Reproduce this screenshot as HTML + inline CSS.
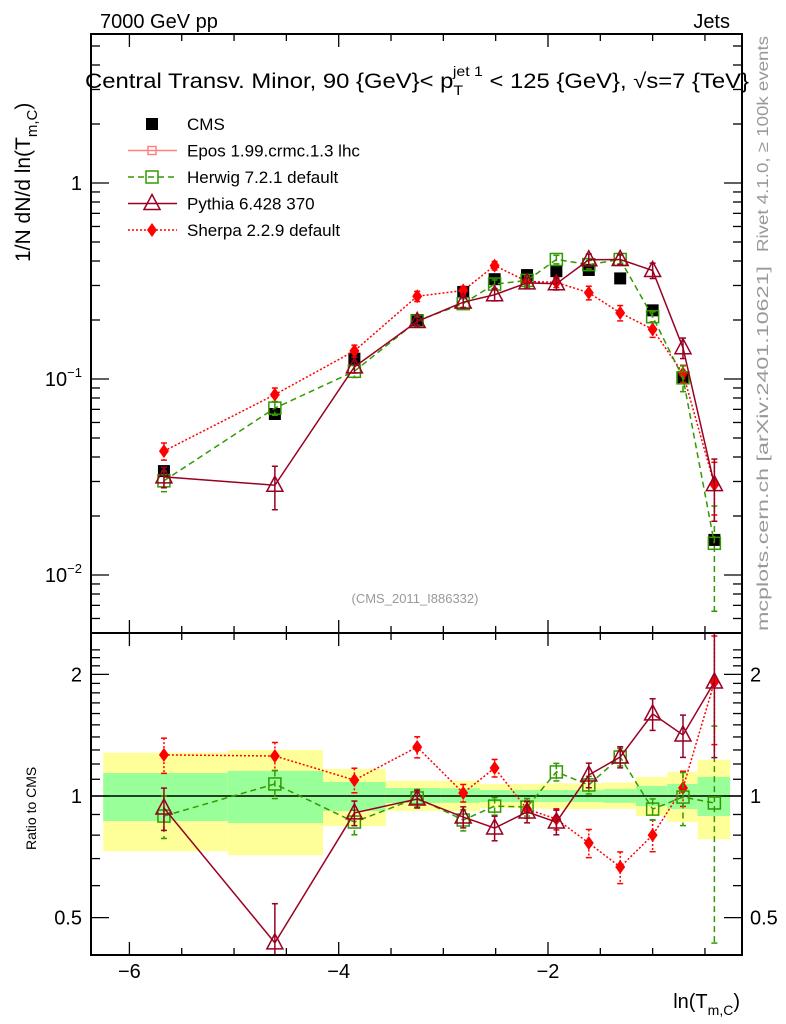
<!DOCTYPE html>
<html><head><meta charset="utf-8"><style>
body{margin:0;background:#fff;}
svg{display:block;font-family:"Liberation Sans",Arial,sans-serif;}
</style></head><body>
<svg id="c" width="786" height="1024" viewBox="0 0 786 1024" xmlns="http://www.w3.org/2000/svg">
<text x="100" y="28" font-size="20">7000 GeV pp</text>
<text x="730" y="28" font-size="20" text-anchor="end">Jets</text>
<text x="417" y="88" font-size="21" text-anchor="middle" textLength="664" lengthAdjust="spacingAndGlyphs">Central Transv. Minor, 90 {GeV}&lt; p<tspan font-size="14" dy="7">T</tspan><tspan font-size="14" dx="-9" dy="-19">jet 1</tspan><tspan dy="12"> &lt; 125 {GeV}, √s=7 {TeV}</tspan></text>
<text transform="translate(30,262) rotate(-90)" font-size="21">1/N    dN/d ln(T<tspan font-size="15" dy="7">m,C</tspan><tspan dy="-7">)</tspan></text>
<text transform="translate(36,850) rotate(-90)" font-size="14">Ratio to CMS</text>
<text transform="translate(768,252) rotate(-90)" font-size="16" fill="#999" textLength="216" lengthAdjust="spacingAndGlyphs">Rivet 4.1.0, ≥ 100k events</text>
<text transform="translate(768,631) rotate(-90)" font-size="16" fill="#999" textLength="365" lengthAdjust="spacingAndGlyphs">mcplots.cern.ch [arXiv:2401.10621]</text>
<text x="415" y="603" font-size="13" fill="#999" text-anchor="middle">(CMS_2011_I886332)</text>
<text x="740" y="1008" font-size="20" text-anchor="end">ln(T<tspan font-size="14" dy="7">m,C</tspan><tspan dy="-7">)</tspan></text>
<g id="bands"></g><g id="marks"></g><g id="axes"></g><g id="legend"></g>
</svg>
<script>
const xs=[-5.67,-4.61,-3.85,-3.25,-2.81,-2.51,-2.20,-1.92,-1.61,-1.31,-1.00,-0.71,-0.41];
const binEdges=[-6.25,-5.06,-4.15,-3.55,-3.03,-2.65,-2.36,-2.07,-1.76,-1.47,-1.16,-0.86,-0.57,-0.26];
const cmsVals=[0.0339,0.0663,0.127,0.200,0.278,0.323,0.339,0.355,0.360,0.326,0.224,0.102,0.0151];
const herwigRatio=[0.892,1.071,0.862,0.989,0.872,0.944,0.939,1.147,1.065,1.249,0.928,0.994,0.961];
const pythiaRatio=[0.934,0.433,0.908,0.983,0.887,0.833,0.913,0.862,1.127,1.249,1.597,1.416,1.915];
const sherpaRatio=[1.264,1.256,1.095,1.322,1.017,1.173,0.928,0.877,0.765,0.667,0.80,1.047,1.915];
const herwigErr=[0.12,0.08,0.07,0.05,0.06,0.05,0.05,0.05,0.05,0.05,0.06,0.15,0.55];
const pythiaErr=[0.12,0.25,0.07,0.05,0.06,0.07,0.06,0.07,0.07,0.06,0.09,0.12,0.35];
const sherpaErr=[0.10,0.08,0.07,0.06,0.05,0.05,0.05,0.06,0.08,0.09,0.09,0.10,0.30];
const bandTotUp=[1.28,1.30,1.167,1.09,1.09,1.071,1.071,1.075,1.075,1.08,1.115,1.147,1.229];
const bandTotLo=[0.73,0.713,0.842,0.918,0.918,0.934,0.934,0.928,0.928,0.93,0.892,0.862,0.782];
const bandStatUp=[1.14,1.154,1.083,1.047,1.045,1.035,1.035,1.035,1.035,1.04,1.059,1.071,1.115];
const bandStatLo=[0.867,0.857,0.918,0.961,0.962,0.966,0.966,0.966,0.966,0.962,0.944,0.928,0.892];
const xTicks=[-6,-4,-2];
const mainTicks=[1,0.1,0.01];
const ratioTicks=[2,1,0.5];

const NS="http://www.w3.org/2000/svg";
const L=91,R=742,MT=34,MB=633,RT=633,RB=955;
const XMIN=-6.367,XMAX=-0.146;
const sx=v=>L+(v-XMIN)/(XMAX-XMIN)*(R-L);
const sy=v=>183-Math.log10(v)*196;
const ry=v=>796-Math.log10(v)*404;
function mk(p,tag,a){const e=document.createElementNS(NS,tag);for(const k in a)e.setAttribute(k,a[k]);p.appendChild(e);return e;}
const bands=document.getElementById('bands'),marks=document.getElementById('marks'),axes=document.getElementById('axes'),leg=document.getElementById('legend');

for(let i=0;i<xs.length;i++){
  const x0=sx(binEdges[i]),x1=sx(binEdges[i+1]);
  let r=mk(bands,'rect',{x:x0,y:ry(bandTotUp[i]),width:x1-x0,height:ry(bandTotLo[i])-ry(bandTotUp[i]),fill:'#ffff99'});
  
  
  r=mk(bands,'rect',{x:x0,y:ry(bandStatUp[i]),width:x1-x0,height:ry(bandStatLo[i])-ry(bandStatUp[i]),fill:'#99ff99'});
  
  
}
let ln=mk(bands,'line',{x1:L,x2:R,y1:ry(1),y2:ry(1),stroke:'#000','stroke-width':1.5});



function marker(g,type,x,y,col){
  if(type==='sq'){mk(g,'rect',{x:x-6,y:y-6,width:12,height:12,fill:'#fff','fill-opacity':0,stroke:col,'stroke-width':1.5});}
  else if(type==='tri'){mk(g,'polygon',{points:`${x},${y-9} ${x-8},${y+6} ${x+8},${y+6}`,fill:'none',stroke:col,'stroke-width':1.5});}
  else if(type==='dia'){mk(g,'polygon',{points:`${x},${y-7} ${x-5},${y} ${x},${y+7} ${x+5},${y}`,fill:col});}
  else if(type==='cms'){mk(g,'rect',{x:x-6,y:y-6,width:12,height:12,fill:'#000'});}
}
function series(name,ratio,err,col,dash,type){
  const g=mk(marks,'g',{});
  
  
  const clipM=[MT,MB],clipR=[RT,RB];
  [[sy,i=>cmsVals[i]*ratio[i],clipM],[ry,i=>ratio[i],clipR]].forEach(([f,val,cl])=>{
    const pts=xs.map((x,i)=>[sx(x),f(val(i))]);
    mk(g,'polyline',{points:pts.map(p=>p.join(',')).join(' '),fill:'none',stroke:col,'stroke-width':1.5,'stroke-dasharray':dash});
    xs.forEach((x,i)=>{
      const v=val(i),X=sx(x);
      let y1=Math.max(cl[0],f(v*(1+err[i]))),y2=Math.min(cl[1],f(Math.max(v*(1-err[i]),1e-4)));
      mk(g,'line',{x1:X,x2:X,y1:y1,y2:y2,stroke:col,'stroke-width':1.5,'stroke-dasharray':dash});
      mk(g,'line',{x1:X-3,x2:X+3,y1:y1,y2:y1,stroke:col,'stroke-width':1.5});
      if(y2<cl[1])mk(g,'line',{x1:X-3,x2:X+3,y1:y2,y2:y2,stroke:col,'stroke-width':1.5});
      marker(g,type,X,f(v),col);
    });
  });
}
const cg=mk(marks,'g',{});


xs.forEach((x,i)=>marker(cg,'cms',sx(x),sy(cmsVals[i]),'#000'));
series('sherpa',sherpaRatio,sherpaErr,'#ff0000','2,2','dia');
series('herwig',herwigRatio,herwigErr,'#339900','6,4','sq');
series('pythia',pythiaRatio,pythiaErr,'#990022','','tri');

[[MT,MB,'main-plot-frame'],[RT,RB,'ratio-plot-frame']].forEach(([t,b,n])=>{
  const r=mk(axes,'rect',{x:L,y:t,width:R-L,height:b-t,fill:'none',stroke:'#000','stroke-width':2});
  
  
});
function tk(x1,y1,x2,y2){mk(axes,'line',{x1,y1,x2,y2,stroke:'#000','stroke-width':1.3});}
for(let v=-6;v<=-0.5;v+=0.5){
  const X=sx(v),len=(Math.abs(v%2)<1e-6)?13:7;
  [MT,RT].forEach(t=>tk(X,t,X,t+len));
  [MB,RB].forEach(b=>tk(X,b,X,b-len));
}
xTicks.forEach(v=>{const t=mk(axes,'text',{x:sx(v),y:978,'font-size':20,'text-anchor':'middle'});t.textContent='−'+Math.abs(v);

});
for(let d=-3;d<=0;d++)for(let m=1;m<10;m++){
  const v=m*Math.pow(10,d),Y=sy(v);if(Y<MT||Y>MB)continue;
  const len=m===1?18:9;tk(L,Y,L+len,Y);tk(R,Y,R-len,Y);
}
mainTicks.forEach(v=>{
  const t=mk(axes,'text',{x:82,y:sy(v)+7,'font-size':20,'text-anchor':'end'});
  if(v===1)t.textContent='1';else{t.textContent='10';const s=mk(t,'tspan',{'font-size':13,dy:-9});s.textContent='−'+Math.round(-Math.log10(v));}
  
  
});
[0.5,0.6,0.7,0.8,0.9,1,1.1,1.2,1.3,1.4,1.5,1.6,1.7,1.8,1.9,2,2.1,2.2,2.3].forEach(v=>{
  const Y=ry(v);if(Y<RT||Y>RB)return;const len=(v===0.5||v===1||v===2)?18:9;tk(L,Y,L+len,Y);tk(R,Y,R-len,Y);
});
ratioTicks.forEach(v=>{
  [[82,'end'],[750,'start']].forEach(([x,a])=>{
    const t=mk(axes,'text',{x:x,y:ry(v)+7,'font-size':20,'text-anchor':a});t.textContent=String(v);
    
    
  });
});
const items=[['CMS','#000','','cms',false],['Epos 1.99.crmc.1.3 lhc','#ff8080','','epos',true],['Herwig 7.2.1 default','#339900','6,4','sq',true],['Pythia 6.428 370','#990022','','tri',true],['Sherpa 2.2.9 default','#ff0000','2,2','dia',true]];
items.forEach((it,i)=>{
  const y=124+i*26.5;const g=mk(leg,'g',{});
  
  
  if(it[4])mk(g,'line',{x1:128,x2:177,y1:y,y2:y,stroke:it[1],'stroke-width':1.5,'stroke-dasharray':it[2]});
  if(it[3]==='epos'){mk(g,'rect',{x:148,y:y-4,width:8,height:8,fill:'none',stroke:it[1],'stroke-width':1.5});}
  else marker(g,it[3],152,y,it[1]);
  const t=mk(g,'text',{x:187,y:y+6,'font-size':17});t.textContent=it[0];
});
</script>
</body></html>
